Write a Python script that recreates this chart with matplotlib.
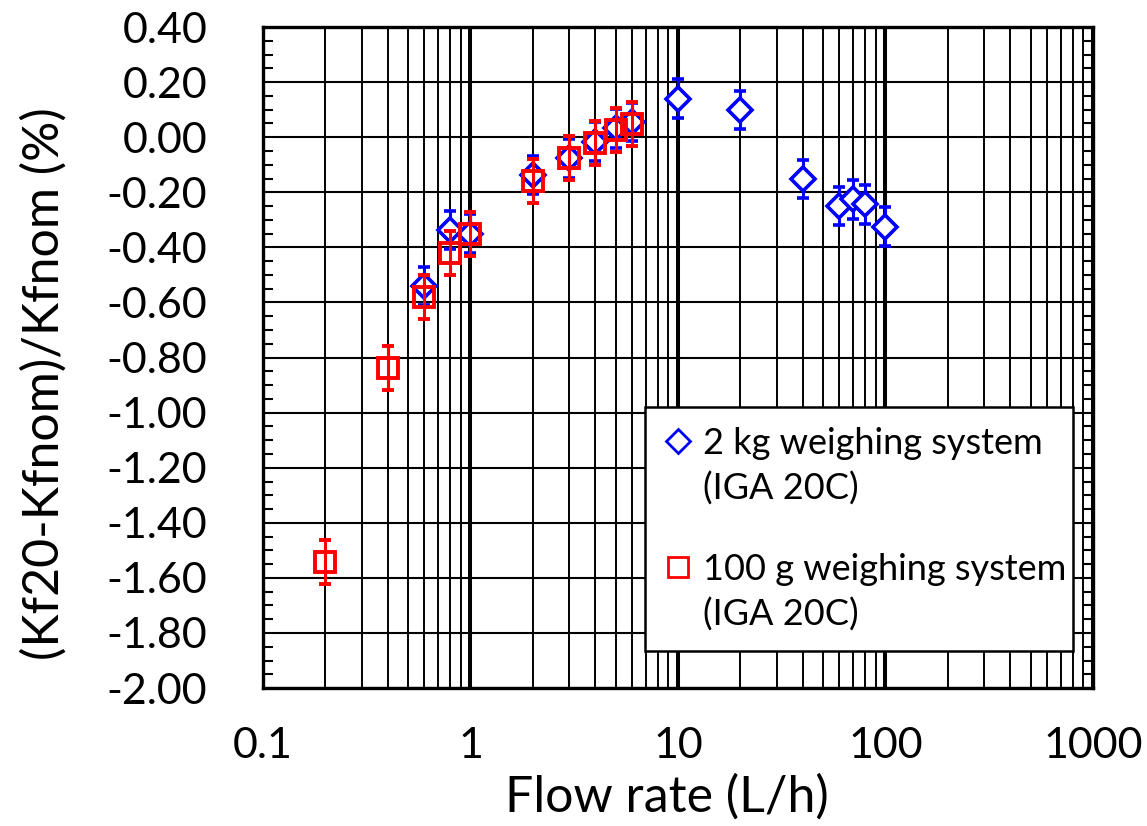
import numpy as np
import matplotlib.pyplot as plt
from matplotlib.lines import Line2D
from matplotlib.legend_handler import HandlerLine2D
from matplotlib.ticker import MultipleLocator, LogLocator, NullFormatter

plt.rcParams['font.family'] = ['Lato', 'DejaVu Sans']

# 2 kg weighing system (IGA 20C)
q_2kg = np.array([0.6, 0.8, 1, 2, 3, 4, 5, 6, 10, 20, 40, 60, 70, 80, 100])
dev_2kg = np.array([-0.54, -0.337, -0.35, -0.137, -0.077, -0.016, 0.032, 0.056,
                    0.14, 0.099, -0.152, -0.249, -0.226, -0.244, -0.325])
err_2kg = 0.07

# 100 g weighing system (IGA 20C)
q_100g = np.array([0.2, 0.4, 0.6, 0.8, 1, 2, 3, 4, 5, 6])
dev_100g = np.array([-1.541, -0.839, -0.58, -0.42, -0.35, -0.158, -0.077, -0.022, 0.026, 0.047])
err_100g = 0.08

x_ticks = [0.1, 1, 10, 100, 1000]
x_labels = ['0.1', '1', '10', '100', '1000']
y_ticks = np.arange(-2.0, 0.41, 0.2)
y_labels = ['%.2f' % v for v in y_ticks]
y_labels = [s.replace('-0.00', '0.00') for s in y_labels]


# put the legend marker on the first line of the two-line label
class TopHandler(HandlerLine2D):
    def create_artists(self, legend, orig_handle, xdescent, ydescent, width, height, fontsize, trans):
        arts = super().create_artists(legend, orig_handle, xdescent, ydescent, width, height, fontsize, trans)
        for a in arts:
            a.set_ydata(np.asarray(a.get_ydata()) + 19)
        return arts


fig = plt.figure(figsize=(11.47, 8.26), dpi=100)
ax = fig.add_axes([0.2293, 0.167, 0.7236, 0.8002])

ax.errorbar(q_2kg, dev_2kg, yerr=err_2kg, fmt='D', ms=12.5, mfc='white', mec='blue',
            mew=2.6, ecolor='blue', elinewidth=2.2, capsize=4.5, capthick=2.5, zorder=3)
ax.errorbar(q_100g, dev_100g, yerr=err_100g, fmt='s', ms=15, mfc='none', mec='red',
            mew=2.8, ecolor='red', elinewidth=2.2, capsize=4.5, capthick=2.5, zorder=4)

ax.set_xscale('log')
ax.set_xlim(0.1, 1000)
ax.set_ylim(-2.0, 0.4)

ax.set_xticks(x_ticks)
ax.set_xticklabels(x_labels)
ax.xaxis.set_minor_locator(LogLocator(base=10, subs=np.arange(2, 10)))
ax.xaxis.set_minor_formatter(NullFormatter())
ax.set_yticks(y_ticks)
ax.set_yticklabels(y_labels)
ax.yaxis.set_minor_locator(MultipleLocator(0.05))

ax.grid(True, which='major', axis='x', color='black', linewidth=2.9)
ax.grid(True, which='minor', axis='x', color='black', linewidth=1.4)
ax.grid(True, which='major', axis='y', color='black', linewidth=1.5)
ax.set_axisbelow(True)

ax.tick_params(which='both', direction='in', left=True, right=True, top=True, bottom=True,
               labelsize=31, color='black')
ax.tick_params(which='major', length=0)
ax.tick_params(axis='y', which='major', pad=40)
ax.tick_params(axis='x', which='major', pad=28)
ax.tick_params(which='minor', axis='y', length=7.5, width=1.5)
ax.tick_params(which='minor', axis='x', length=0)
for s in ax.spines.values():
    s.set_linewidth(2.4)

ax.set_xlabel('Flow rate (L/h)', fontsize=36)
ax.xaxis.set_label_coords(0.487, -0.13)
ax.set_ylabel('(Kf20-Kfnom)/Kfnom (%)', fontsize=36)
ax.yaxis.set_label_coords(-0.235, 0.46)

handles = [Line2D([], [], ls='none', marker='D', ms=12.5, mfc='white', mec='blue', mew=2),
           Line2D([], [], ls='none', marker='s', ms=14, mfc='none', mec='red', mew=2)]
leg = ax.legend(handles, ['2 kg weighing system\n(IGA 20C)', '100 g weighing system\n(IGA 20C)'],
                loc='upper left', bbox_to_anchor=(0.4602, 0.0545, 0.5157, 0.3707), mode='expand',
                fontsize=26, frameon=True, fancybox=False, framealpha=1, edgecolor='black',
                handlelength=0.75, handletextpad=0.3, labelspacing=1.3, borderpad=0.55,
                borderaxespad=0, handler_map={Line2D: TopHandler()})
leg.get_frame().set_linewidth(1.8)
for t in leg.get_texts():
    t.set_linespacing(1.42)

fig.savefig('out.png', dpi=100)
